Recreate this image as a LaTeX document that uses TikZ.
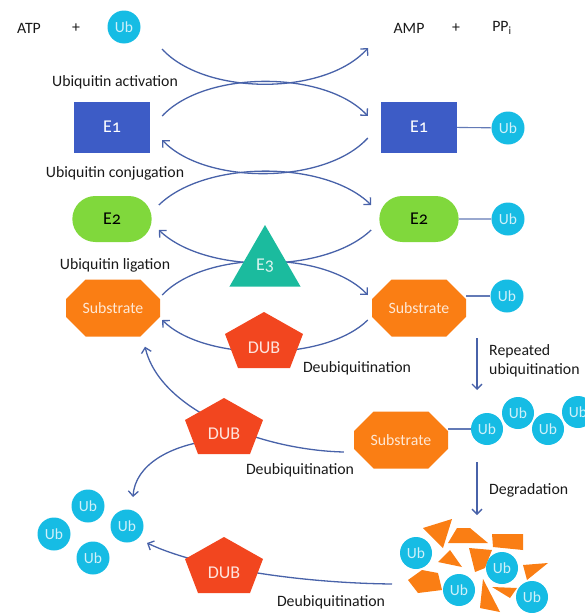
\documentclass[tikz,border=0pt]{standalone}
\usepackage{fontspec}
\setmainfont{Carlito}
\newfontfamily\oldnum[Numbers=OldStyle]{Carlito}
\usetikzlibrary{shapes.misc,shapes.geometric,arrows.meta,backgrounds}
\definecolor{eonecol}{HTML}{3D5CC6}
\definecolor{etwocol}{HTML}{80D83C}
\definecolor{ethreecol}{HTML}{1BBB9E}
\definecolor{substcol}{HTML}{FA7E14}
\definecolor{dubcol}{HTML}{F2461F}
\definecolor{ubcol}{HTML}{16BCE4}
\definecolor{flowcol}{HTML}{4862A9}

\begin{document}
\begin{tikzpicture}[x=1pt, y=-1pt,
    every node/.style={font=\fontsize{15.8}{18.5}\selectfont, text=black!90},
    ubball/.style={circle, fill=ubcol, minimum size=33pt, inner sep=0pt, text=white!80!ubcol, font=\fontsize{15.5}{18}\selectfont},
    eone/.style={rectangle, fill=eonecol, minimum width=76pt, minimum height=51pt, text=white, font=\oldnum\fontsize{18}{20}\selectfont},
    etwo/.style={rounded rectangle, fill=etwocol, minimum width=86pt, minimum height=46pt, text=black, font=\oldnum\fontsize{18}{20}\selectfont},
    ethree/.style={regular polygon, regular polygon sides=3, fill=ethreecol, minimum size=82pt, inner sep=0pt, text=white!85!ethreecol, font=\oldnum\fontsize{18}{20}\selectfont},
    subst/.style={chamfered rectangle, chamfered rectangle xsep=15pt, chamfered rectangle ysep=14pt, fill=substcol, minimum width=94pt, minimum height=57pt, inner sep=0pt, text=white!82!substcol},
    dubtext/.style={text=white!85!dubcol, font=\fontsize{18}{20}\selectfont},
    dubpent/.pic={\fill[dubcol] (0,-36) -- (39,-14) -- (26,20) -- (-26,20) -- (-39,-14) -- cycle;},
    flow/.style={draw=flowcol, line width=1.3pt, -{Straight Barb[length=5pt,width=10pt]}},
    bond/.style={draw=flowcol!85, line width=1.1pt}
]
    \useasboundingbox (0,0) rectangle (585,613);
    % Top line
    \node (atp) at (29,28) {ATP};
    \node (plusa) at (76,28) {+};
    \node[ubball] (ub0) at (124,27) {Ub};
    \node (amp) at (409,28) {AMP};
    \node (plusb) at (456,28) {+};
    \node (ppi) at (502,28) {PP\textsubscript{i}};
    % Left column
    \node (act) at (115,82) {Ubiquitin activation};
    \node[eone] (e1l) at (112,127) {E1};
    \node (conj) at (115,173) {Ubiquitin conjugation};
    \node[etwo] (e2l) at (112,219) {E2};
    \node (lig) at (115,265) {Ubiquitin ligation};
    \node[subst] (sl) at (113,308) {Substrate};
    % Right column
    \node[eone] (e1r) at (419,127) {E1};
    \node[ubball] (ub1) at (508,128) {Ub};
    \draw[bond] (e1r) -- (ub1);
    \node[etwo] (e2r) at (419,219) {E2};
    \node[ubball] (ub2) at (508,219) {Ub};
    \draw[bond] (e2r) -- (ub2);
    \node[subst] (sr) at (419,308) {Substrate};
    \node[ubball] (ub3) at (507,296) {Ub};
    \draw[bond] (ub3) -- (ub3 -| sr.east);
    % E3 and first DUB
    \node[ethree] (e3) at (265,266) {E3};
    \pic at (264,348) {dubpent};
    \node[dubtext] (dub1) at (264,348) {DUB};
    \node (deub1) at (357,368) {Deubiquitination};
    % Repeated ubiquitination
    \coordinate (repa) at (477,338);
    \coordinate (repb) at (477,390);
    \draw[flow] (repa) -- (repb);
    \node[align=left, anchor=west, inner sep=0pt] (rep) at (489,361) {Repeated\\ubiquitination};
    % Polyubiquitinated substrate
    \node[subst] (s3) at (401,440) {Substrate};
    \node[ubball, minimum size=32pt] (uc1) at (487,429) {Ub};
    \node[ubball, minimum size=32pt] (uc2) at (518,413) {Ub};
    \node[ubball, minimum size=32pt] (uc3) at (548,429) {Ub};
    \node[ubball, minimum size=32pt] (uc4) at (578,412) {Ub};
    \draw[bond] (uc1) -- (uc1 -| s3.east);
    % Second DUB
    \pic at (224,434) {dubpent};
    \node[dubtext] (dub2) at (224,434) {DUB};
    \node (deub2) at (300,470) {Deubiquitination};
    % Degradation
    \coordinate (dega) at (477,462);
    \coordinate (degb) at (477,515);
    \draw[flow] (dega) -- (degb);
    \node[anchor=west, inner sep=0pt] (deg) at (489,490) {Degradation};
    % Fragments
    \fill[substcol] (423,528) -- (452,519) -- (443,548) -- cycle;
    \fill[substcol] (448,543) -- (457,528) -- (470,528) -- (488,543) -- cycle;
    \fill[substcol] (492,534) -- (523,534) -- (523,550) -- (493,547) -- cycle;
    \fill[substcol] (438,562) -- (450,550) -- (462,567) -- cycle;
    \fill[substcol] (469,548) -- (492,550) -- (485,568) -- (475,572) -- cycle;
    \fill[substcol] (408,580) -- (422,570) -- (438,573) -- (442,590) -- (418,593) -- cycle;
    \fill[substcol] (523,565) -- (548,563) -- (527,580) -- cycle;
    \fill[substcol] (483,579) -- (480,608) -- (500,612) -- cycle;
    \fill[substcol] (492,587) -- (517,588) -- (510,598) -- cycle;
    \node[ubball, minimum size=32pt] (ud1) at (416,553) {Ub};
    \node[ubball, minimum size=32pt] (ud2) at (502,568) {Ub};
    \node[ubball, minimum size=32pt] (ud3) at (459,590) {Ub};
    \node[ubball, minimum size=32pt] (ud4) at (532,597) {Ub};
    \coordinate (debris) at (392,584);
    % Free ubiquitin
    \node[ubball] (ubc1) at (88,506) {Ub};
    \node[ubball] (ubc2) at (54,534) {Ub};
    \node[ubball] (ubc3) at (127,526) {Ub};
    \node[ubball] (ubc4) at (93,558) {Ub};
    % Third DUB
    \pic at (224,573) {dubpent};
    \node[dubtext] (dub3) at (224,573) {DUB};
    \node (deub3) at (331,602) {Deubiquitination};
    % Curved arrows
    \begin{scope}[on background layer]
        \draw[flow] ([shift={(38,22)}]ub0.center) .. controls (205,96) and (325,96) .. ([shift={(-41,20)}]amp.center);
        \draw[flow] ([shift={(12,-11)}]e1l.east) .. controls (205,70) and (325,70) .. ([shift={(-13,-11)}]e1r.west);
        \draw[flow] ([shift={(-13,11)}]e1r.west) .. controls (325,185) and (205,185) .. ([shift={(12,13)}]e1l.east);
        \draw[flow] ([shift={(7,-14)}]e2l.east) .. controls (205,160) and (325,160) .. ([shift={(-8,-14)}]e2r.west);
        \draw[flow] ([shift={(-8,11)}]e2r.west) .. controls (325,274) and (205,274) .. ([shift={(7,11)}]e2l.east);
        \draw[flow] ([shift={(2,-13)}]sl.east) .. controls (205,250) and (325,250) .. ([shift={(-4,-13)}]sr.west);
        \draw[flow] ([shift={(-4,12)}]sr.west) .. controls (325,362) and (205,362) .. ([shift={(2,12)}]sl.east);
        \draw[flow] ([shift={(-10,12)}]s3.west) .. controls (260,450) and (160,410) .. ([shift={(32,10)}]sl.south);
        \draw[flow] ([shift={(-10,6)}]dub2.center) .. controls (170,445) and (135,465) .. ([shift={(6,-29)}]ubc3.center);
        \draw[flow] (debris) .. controls (300,583) and (200,568) .. ([shift={(20,17)}]ubc3.center);
    \end{scope}
\end{tikzpicture}
\end{document}
